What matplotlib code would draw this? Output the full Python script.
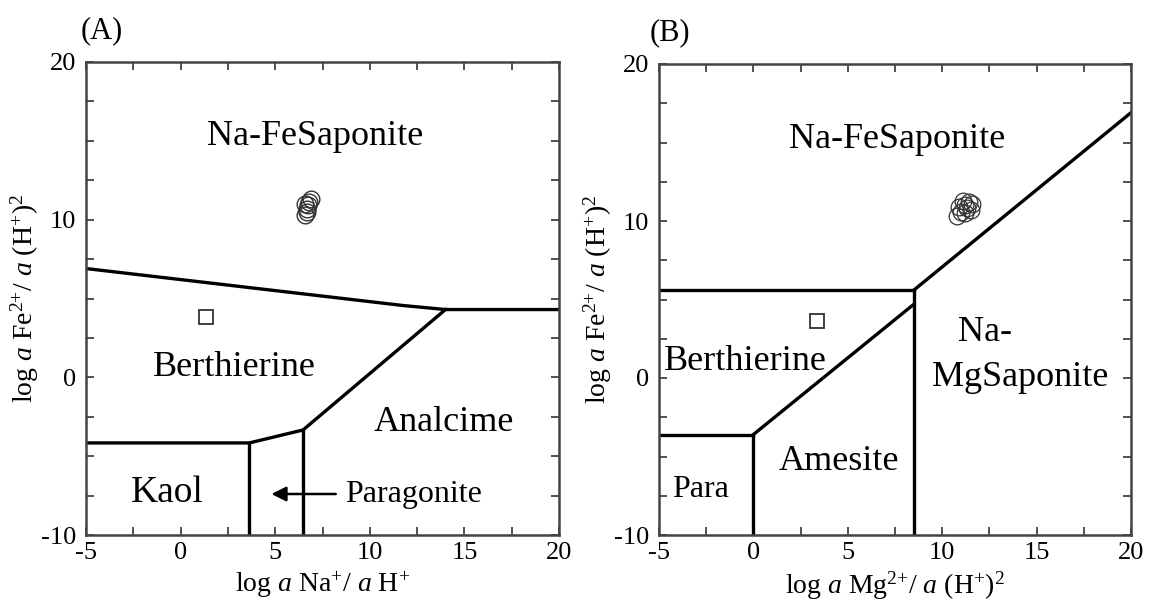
import matplotlib
matplotlib.use("Agg")
import matplotlib.pyplot as plt
from matplotlib.ticker import MultipleLocator

plt.rcParams['font.family'] = ['Liberation Serif', 'DejaVu Serif']
plt.rcParams['mathtext.fontset'] = 'custom'
plt.rcParams['mathtext.rm'] = 'Liberation Serif'
plt.rcParams['mathtext.it'] = 'Liberation Serif:italic'
plt.rcParams['mathtext.bf'] = 'Liberation Serif:bold'

# ---------------- data: panel A ----------------
a_fesap_x = [-5, 11.8, 14.0, 20]
a_fesap_y = [6.9, 4.55, 4.3, 4.3]
a_anal_x = [14.0, 6.47, 3.63, -5]
a_anal_y = [4.3, -3.34, -4.16, -4.16]
a_kaol_x = [3.63, 3.63]
a_kaol_y = [-4.16, -10]
a_para_x = [6.47, 6.47]
a_para_y = [-3.34, -10]
a_circ_x = [6.6, 6.7, 6.8, 6.9, 6.6, 6.7, 6.75]
a_circ_y = [10.3, 10.7, 11.1, 11.3, 11.0, 10.5, 10.9]
a_sq_x = [1.35]
a_sq_y = [3.8]

# ---------------- data: panel B ----------------
b_sap_x = [8.5, 20]
b_sap_y = [5.6, 16.9]
b_ber_x = [-5, 8.5]
b_ber_y = [5.6, 5.6]
b_ames_x = [0, 8.5]
b_ames_y = [-3.6, 4.7]
b_mgv_x = [8.5, 8.5]
b_mgv_y = [5.6, -10]
b_parah_x = [-5, 0]
b_parah_y = [-3.6, -3.6]
b_parav_x = [0, 0]
b_parav_y = [-3.6, -10]
b_circ_x = [10.8, 11.0, 11.2, 11.4, 11.6, 11.1, 10.9, 11.3, 11.5, 11.2]
b_circ_y = [10.3, 10.6, 11.0, 11.2, 11.1, 11.3, 10.9, 10.8, 10.7, 10.5]
b_sq_x = [3.35]
b_sq_y = [3.65]

xticks = [-5, 0, 5, 10, 15, 20]
yticks = [-10, 0, 10, 20]

fig = plt.figure(figsize=(11.54, 6.10), dpi=100)
axA = fig.add_axes([86/1154, 1 - 535/610, 473/1154, 473/610])
axB = fig.add_axes([659/1154, 1 - 535/610, 472/1154, 471/610])

LW = 2.4
tick_fs = 19
lab_fs = 20
reg_fs = 26

for ax in (axA, axB):
    ax.set_xlim(-5, 20)
    ax.set_ylim(-10, 20)
    ax.set_xticks(xticks)
    ax.set_yticks(yticks)
    ax.set_xticklabels([str(t) for t in xticks])
    ax.set_yticklabels([str(t) for t in yticks])
    ax.xaxis.set_minor_locator(MultipleLocator(2.5))
    ax.yaxis.set_minor_locator(MultipleLocator(2.5))
    ax.tick_params(which='both', direction='in', top=True, right=True,
                   length=6, width=1.2, color='#333333')
    ax.tick_params(axis='x', which='major', labelsize=tick_fs, pad=5)
    ax.tick_params(axis='y', which='major', labelsize=tick_fs, pad=7)
    for s in ax.spines.values():
        s.set_linewidth(1.8)
        s.set_color('#444444')

# Panel A
axA.plot(a_fesap_x, a_fesap_y, color='black', lw=LW)
axA.plot(a_anal_x, a_anal_y, color='black', lw=LW)
axA.plot(a_kaol_x, a_kaol_y, color='black', lw=LW)
axA.plot(a_para_x, a_para_y, color='black', lw=LW)
axA.plot(a_circ_x, a_circ_y, 'o', ms=12, mfc='none', mec='#333333', mew=1.0)
axA.plot(a_sq_x, a_sq_y, 's', ms=10, mfc='white', mec='#333333', mew=1.3)
axA.text(7.1, 15.3, 'Na-FeSaponite', fontsize=reg_fs, ha='center', va='center')
axA.text(2.85, 0.6, 'Berthierine', fontsize=reg_fs, ha='center', va='center')
axA.text(13.9, -2.85, 'Analcime', fontsize=reg_fs, ha='center', va='center')
axA.text(-0.7, -7.3, 'Kaol', fontsize=reg_fs + 1, ha='center', va='center')
axA.text(8.7, -7.4, 'Paragonite', fontsize=reg_fs - 3, ha='left', va='center')
axA.annotate('', xy=(4.8, -7.4), xytext=(8.2, -7.4),
             arrowprops=dict(arrowstyle='-|>', color='black', lw=1.8,
                             mutation_scale=22, shrinkA=0, shrinkB=0))
axA.set_xlabel(r'log $\it{a}$ Na$^{+}$/ $\it{a}$ H$^{+}$', fontsize=lab_fs, labelpad=4)
axA.set_ylabel(r'log $\it{a}$ Fe$^{2{+}}$/ $\it{a}$ (H$^{+}$)$^{2}$', fontsize=lab_fs, labelpad=0)
axA.text(-0.012, 1.035, '(A)', transform=axA.transAxes, fontsize=lab_fs + 2,
         ha='left', va='bottom')

# Panel B
axB.plot(b_sap_x, b_sap_y, color='black', lw=LW)
axB.plot(b_ber_x, b_ber_y, color='black', lw=LW)
axB.plot(b_ames_x, b_ames_y, color='black', lw=LW)
axB.plot(b_mgv_x, b_mgv_y, color='black', lw=LW)
axB.plot(b_parah_x, b_parah_y, color='black', lw=LW)
axB.plot(b_parav_x, b_parav_y, color='black', lw=LW)
axB.plot(b_circ_x, b_circ_y, 'o', ms=12, mfc='none', mec='#333333', mew=0.9)
axB.plot(b_sq_x, b_sq_y, 's', ms=10, mfc='white', mec='#333333', mew=1.3)
axB.text(7.6, 15.2, 'Na-FeSaponite', fontsize=reg_fs, ha='center', va='center')
axB.text(-0.4, 1.05, 'Berthierine', fontsize=reg_fs, ha='center', va='center')
axB.text(12.25, 2.9, 'Na-', fontsize=reg_fs, ha='center', va='center')
axB.text(14.15, 0.05, 'MgSaponite', fontsize=reg_fs, ha='center', va='center')
axB.text(4.55, -5.35, 'Amesite', fontsize=reg_fs, ha='center', va='center')
axB.text(-2.8, -7.1, 'Para', fontsize=reg_fs - 3, ha='center', va='center')
axB.set_xlabel(r'log $\it{a}$ Mg$^{2{+}}$/ $\it{a}$ (H$^{+}$)$^{2}$', fontsize=lab_fs, labelpad=4)
axB.set_ylabel(r'log $\it{a}$ Fe$^{2{+}}$/ $\it{a}$ (H$^{+}$)$^{2}$', fontsize=lab_fs, labelpad=0)
axB.text(-0.02, 1.035, '(B)', transform=axB.transAxes, fontsize=lab_fs + 2,
         ha='left', va='bottom')

fig.savefig('out.png', dpi=100)
